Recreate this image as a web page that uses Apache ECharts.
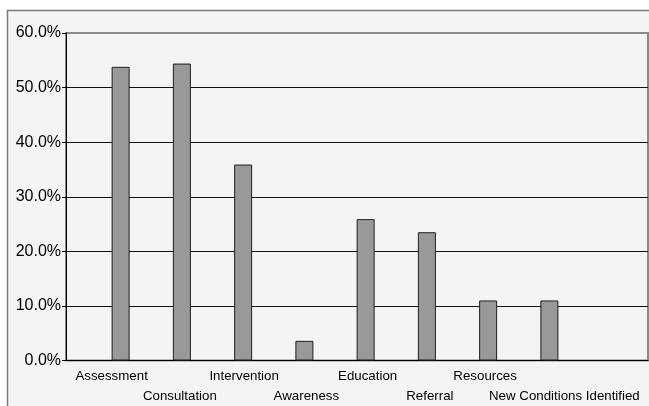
<!DOCTYPE html>
<html>
<head>
<meta charset="utf-8">
<script src="https://cdn.jsdelivr.net/npm/echarts@6/dist/echarts.min.js"></script>
<style>
  html, body { margin: 0; padding: 0; background: #ffffff; }
  #chart { width: 649px; height: 406px; }
</style>
</head>
<body>
<div id="chart"></div>
<script>
// Service categories and the share of cases for each
const categories = ['Assessment', 'Consultation', 'Intervention', 'Awareness',
  'Education', 'Referral', 'Resources', 'New Conditions Identified'];
const shares = [0.538, 0.544, 0.359, 0.036, 0.259, 0.235, 0.110, 0.110];
const yTicks = [0, 0.1, 0.2, 0.3, 0.4, 0.5, 0.6];

// small horizontal nudges (px) for the staggered category labels
const labelNudge = [-9, -2, 1, 2, 2, 3, -3, 15];

const FONT = '"Liberation Sans", Arial, Helvetica, sans-serif';
const yMin = yTicks[0], yMax = yTicks[yTicks.length - 1];
const yStep = yTicks[1] - yTicks[0];

const rich = {};
categories.forEach((c, i) => {
  const n = labelNudge[i];
  const left = n > 0 ? 2 * n : 0;
  const right = n < 0 ? -2 * n : 0;
  rich['c' + i] = {
    fontFamily: FONT, fontSize: 13.3, color: '#000', lineHeight: 16,
    padding: [i % 2 ? 39 : 0, right, 0, left]
  };
});

const chart = echarts.init(document.getElementById('chart'), null, { renderer: 'canvas' });
chart.setOption({
  animation: false,
  backgroundColor: '#ffffff',
  graphic: [{
    type: 'rect', z: -10, silent: true,
    shape: { x: 7.5, y: 10.5, width: 700, height: 500 },
    style: { fill: '#f4f4f4', stroke: '#7a7a7a', lineWidth: 1.5 }
  }],
  grid: [
    { left: 66, top: 33, width: 582, height: 327.5, show: true,
      borderColor: '#8a8a8a', borderWidth: 2, backgroundColor: 'transparent' },
    { left: 90, top: 33, width: 490, height: 327.5 }
  ],
  xAxis: [
    { type: 'value', gridIndex: 0, min: 0, max: 1,
      axisLine: { show: true, lineStyle: { color: '#000', width: 1 } },
      axisTick: { show: false }, axisLabel: { show: false }, splitLine: { show: false } },
    { type: 'category', gridIndex: 1, data: categories,
      axisLine: { show: false }, axisTick: { show: false },
      axisLabel: {
        interval: 0, margin: 8, hideOverlap: false,
        formatter: (v, i) => '{c' + i + '|' + v + '}',
        rich: rich
      } }
  ],
  yAxis: [
    { type: 'value', gridIndex: 0, min: yMin, max: yMax, interval: yStep,
      axisLine: { show: true, lineStyle: { color: '#000', width: 1 } },
      axisTick: { show: true, length: 4, lineStyle: { color: '#000' } },
      axisLabel: { fontFamily: FONT, fontSize: 16, color: '#000', margin: 5,
        formatter: v => (v * 100).toFixed(1) + '%' },
      splitLine: { show: true, showMaxLine: false, lineStyle: { color: '#111', width: 1.2 } } },
    { type: 'value', gridIndex: 1, min: yMin, max: yMax, interval: yStep, show: false }
  ],
  series: [{
    type: 'bar', xAxisIndex: 1, yAxisIndex: 1, data: shares,
    barWidth: 18,
    itemStyle: { color: '#999999', borderColor: '#1e1e1e', borderWidth: 1 }
  }]
});
</script>
</body>
</html>
